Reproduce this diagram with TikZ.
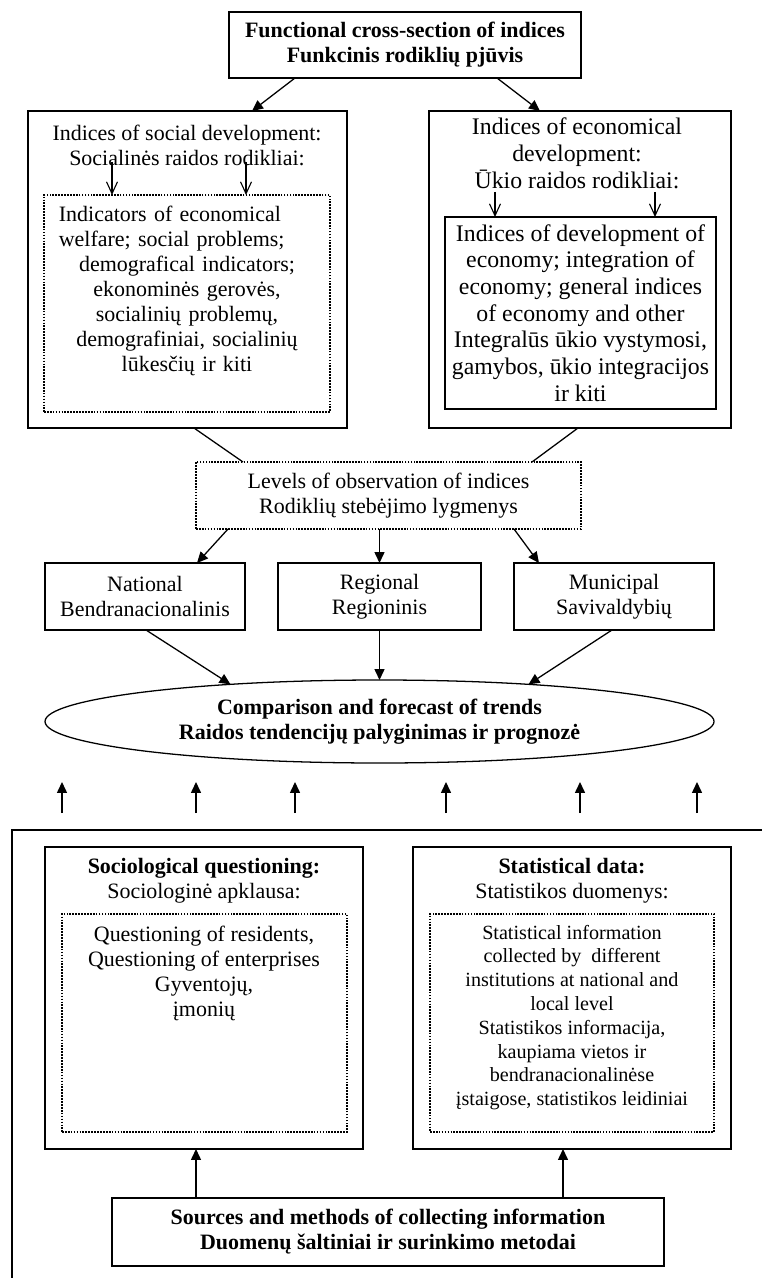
\documentclass[tikz,border=0pt]{standalone}
\usepackage{fontspec}
\setmainfont{Liberation Serif}
\usetikzlibrary{arrows.meta,shapes.geometric}

% style, name, x1, y1, x2, y2, text   (coordinates in reference pixels)
\newcommand{\mkbox}[7]{%
  \pgfmathsetmacro\mkbcx{(#3+#5)/2}%
  \pgfmathsetmacro\mkbcy{(#4+#6)/2}%
  \pgfmathsetmacro\mkbw{(#5-#3)*0.5464}%
  \pgfmathsetmacro\mkbh{(#6-#4)*0.5464}%
  \node[#1, minimum width=\mkbw pt, minimum height=\mkbh pt] (#2) at (\mkbcx,\mkbcy) {#7};}

\tikzset{
  every node/.style={inner sep=0pt, outer sep=0pt},
  solidbox/.style={draw, line width=0.7pt, rectangle},
  dotbox/.style={draw, line width=0.8pt, dash pattern=on 0.9pt off 0.7pt, rectangle},
  txt/.style={align=center, font=\fontsize{12}{13.6}\selectfont},
  txtb/.style={align=center, font=\fontsize{12}{13.6}\selectfont\bfseries},
  txtm/.style={align=center, font=\fontsize{13}{14.6}\selectfont},
  txts/.style={align=center, font=\fontsize{11}{13}\selectfont},
  arr/.style={line width=0.7pt, -{Triangle[length=6pt,width=5.5pt]}},
  varr/.style={line width=0.6pt, -{Straight Barb[length=6.5pt,width=6pt]}},
  plain/.style={line width=0.7pt},
}

\begin{document}
\begin{tikzpicture}[x=0.5464pt,y=-0.5464pt]
\useasboundingbox (0,0) rectangle (762,1278);

% ---------- top ----------
\mkbox{solidbox,txtb}{top}{229}{12}{581}{78}{Functional cross-section of indices\\Funkcinis rodiklių pjūvis}

% ---------- left big box ----------
\mkbox{solidbox}{lbox}{28}{111}{347}{428}{}
\node[txt] (lhead) at (187,145) {Indices of social development:\\Socialinės raidos rodikliai:};
\mkbox{dotbox}{linner}{44}{195}{330}{412}{}
\node[txt, text width=140pt] (ltext) at (187,291) {\makebox[\linewidth][l]{Indicators of economical}\\\makebox[\linewidth][l]{welfare; social problems;}\\demografical indicators;\\ekonominės gerovės,\\socialinių problemų,\\demografiniai, socialinių\\lūkesčių ir kiti};
\coordinate (la1) at (112,162);
\coordinate (la2) at (246,162);
\draw[varr] (la1) -- (la1 |- linner.north);
\draw[varr] (la2) -- (la2 |- linner.north);

% ---------- right big box ----------
\mkbox{solidbox}{rbox}{429}{111}{731}{428}{}
\node[txtm] (rhead) at (577,153.5) {Indices of economical\\development:\\Ūkio raidos rodikliai:};
\mkbox{solidbox,txtm}{rinner}{445}{217}{716}{409}{Indices of development of\\economy; integration of\\economy; general indices\\of economy and other\\Integralūs ūkio vystymosi,\\gamybos, ūkio integracijos\\ir kiti}
\coordinate (ra1) at (495,192);
\coordinate (ra2) at (655,192);
\draw[varr] (ra1) -- (ra1 |- rinner.north);
\draw[varr] (ra2) -- (ra2 |- rinner.north);

\draw[arr] (top.south -| 295,0) -- (lbox.north -| 252,0);
\draw[arr] (top.south -| 497,0) -- (rbox.north -| 540,0);

% ---------- levels ----------
\mkbox{dotbox,txt}{lev}{196}{462}{581}{529}{Levels of observation of indices\\Rodiklių stebėjimo lygmenys}
\draw[plain] (lbox.south -| 194,0) -- (lev.north -| 243,0);
\draw[plain] (rbox.south -| 578,0) -- (lev.north -| 532,0);

\mkbox{solidbox,txt}{nat}{45}{563}{245}{630}{National\\Bendranacionalinis}
\mkbox{solidbox,txt}{reg}{278}{563}{481}{630}{Regional\\Regioninis}
\mkbox{solidbox,txt}{mun}{514}{563}{714}{630}{Municipal\\Savivaldybių}
\draw[arr] (lev.south -| 228,0) -- (nat.north -| 197,0);
\draw[arr] (lev.south -| reg.north) -- (reg.north);
\draw[arr] (lev.south -| 514,0) -- (mun.north -| 539,0);

% ---------- ellipse ----------
\mkbox{draw,ellipse,line width=0.7pt,txtb}{ell}{45}{680}{714}{763}{Comparison and forecast of trends\\Raidos tendencijų palyginimas ir prognozė}
\draw[arr] (nat.south -| 146,0) -- (ell.166);
\draw[arr] (reg.south) -- (ell.north);
\draw[arr] (mun.south -| 612,0) -- (ell.14);

% ---------- up arrows ----------
\foreach \ux [count=\i] in {62,196,295,446,580,697} {
  \coordinate (up\i) at (\ux,813);
  \draw[arr] (up\i) -- ++(0,-31);
}

% ---------- frame ----------
\coordinate (fr1) at (762,830);
\coordinate (fr2) at (12,830);
\coordinate (fr3) at (12,1278);
\draw[plain] (fr1) -- (fr2) -- (fr3);

% ---------- bottom boxes ----------
\mkbox{solidbox}{sq}{45}{847}{363}{1149}{}
\node[txt] (sqhead) at (204,880.5) {\textbf{Sociological questioning:}\\Sociologinė apklausa:};
\mkbox{dotbox}{sqin}{62}{914}{347}{1132}{}
\node[txt] (sqtext) at (204,973.5) {Questioning of residents,\\Questioning of enterprises\\Gyventojų,\\įmonių};

\mkbox{solidbox}{sd}{413}{847}{731}{1149}{}
\node[txt] (sdhead) at (572,880.5) {\textbf{Statistical data:}\\Statistikos duomenys:};
\mkbox{dotbox}{sdin}{430}{914}{714}{1132}{}
\node[txts] (sdtext) at (572,1017.5) {Statistical information\\collected by\ \ different\\institutions at national and\\local level\\Statistikos informacija,\\kaupiama vietos ir\\bendranacionalinėse\\įstaigose, statistikos leidiniai};

\mkbox{solidbox,txtb}{src}{112}{1198}{664}{1266}{Sources and methods of collecting information\\Duomenų šaltiniai ir surinkimo metodai}
\draw[arr] (src.north -| 196,0) -- (sq.south -| 196,0);
\draw[arr] (src.north -| 563,0) -- (sd.south -| 563,0);
\end{tikzpicture}
\end{document}
